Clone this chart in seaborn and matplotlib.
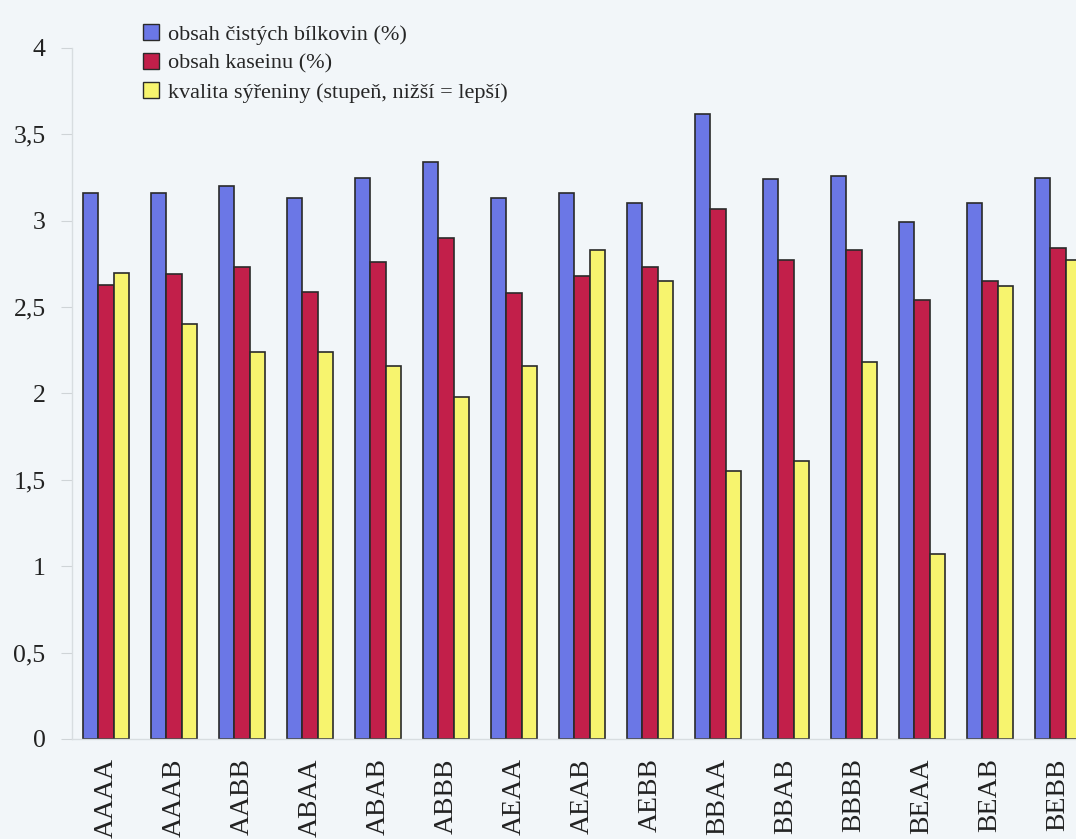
import numpy as np
import matplotlib
matplotlib.use("Agg")
import matplotlib.pyplot as plt
import seaborn as sns
import pandas as pd

# genotype groups
groups = ["AAAA", "AAAB", "AABB", "ABAA", "ABAB", "ABBB", "AEAA", "AEAB",
          "AEBB", "BBAA", "BBAB", "BBBB", "BEAA", "BEAB", "BEBB"]
bilkoviny = [3.16, 3.16, 3.20, 3.13, 3.25, 3.34, 3.13, 3.16,
             3.10, 3.62, 3.24, 3.26, 2.99, 3.10, 3.25]
kasein = [2.63, 2.69, 2.73, 2.59, 2.76, 2.90, 2.58, 2.68,
          2.73, 3.07, 2.77, 2.83, 2.54, 2.65, 2.84]
syrenina = [2.70, 2.40, 2.24, 2.24, 2.16, 1.98, 2.16, 2.83,
            2.65, 1.55, 1.61, 2.18, 1.07, 2.62, 2.77]
series_names = ["obsah čistých bílkovin (%)", "obsah kaseinu (%)",
                "kvalita sýřeniny (stupeň, nižší = lepší)"]
yticks = [0, 0.5, 1, 1.5, 2, 2.5, 3, 3.5, 4]
ytick_labels = ["0", "0,5", "1", "1,5", "2", "2,5", "3", "3,5", "4"]

colors = ["#6b77e6", "#c21f4a", "#f7f46e"]
bg = "#f2f6f9"

df = pd.DataFrame({
    "skupina": groups * 3,
    "hodnota": bilkoviny + kasein + syrenina,
    "serie": [series_names[0]] * len(groups) + [series_names[1]] * len(groups)
             + [series_names[2]] * len(groups),
})

sns.set_style("white")
plt.rcParams["font.family"] = ["Liberation Serif", "DejaVu Serif"]

fig = plt.figure(figsize=(10.76, 8.39), dpi=100, facecolor=bg)
ax = fig.add_axes([0.0669, 0.1192, 0.948, 0.8236])
ax.set_facecolor(bg)

sns.barplot(data=df, x="skupina", y="hodnota", hue="serie", order=groups,
            hue_order=series_names, palette=colors, width=0.68,
            edgecolor="#2a2a2a", linewidth=1.2, saturation=1, ax=ax)

ax.set_xlim(-0.5, 14.5)
ax.set_ylim(0, 4)
ax.set_yticks(yticks)
ax.set_yticklabels(ytick_labels, fontsize=18.5)
ax.set_xticks(range(len(groups)))
ax.set_xticklabels(groups, rotation=90, fontsize=20, color="#222222")
ax.set_xlabel("")
ax.set_ylabel("")
for s in ["top", "right"]:
    ax.spines[s].set_visible(False)
for s in ["left", "bottom"]:
    ax.spines[s].set_color("#d8dde0")
    ax.spines[s].set_linewidth(1)
ax.tick_params(axis="y", length=8, color="#cfd4d7", pad=11, labelcolor="#222222", left=True)
ax.tick_params(axis="x", length=0, pad=14)

leg = ax.legend(loc="upper left", bbox_to_anchor=(0.061, 1.047), frameon=False,
                fontsize=16, handlelength=0.7, handleheight=0.7,
                handletextpad=0.4, labelspacing=0.38, borderaxespad=0)
for h in leg.legend_handles:
    h.set_edgecolor("#2a2a2a")
    h.set_linewidth(1)

fig.savefig("out.png", dpi=100, facecolor=bg)
